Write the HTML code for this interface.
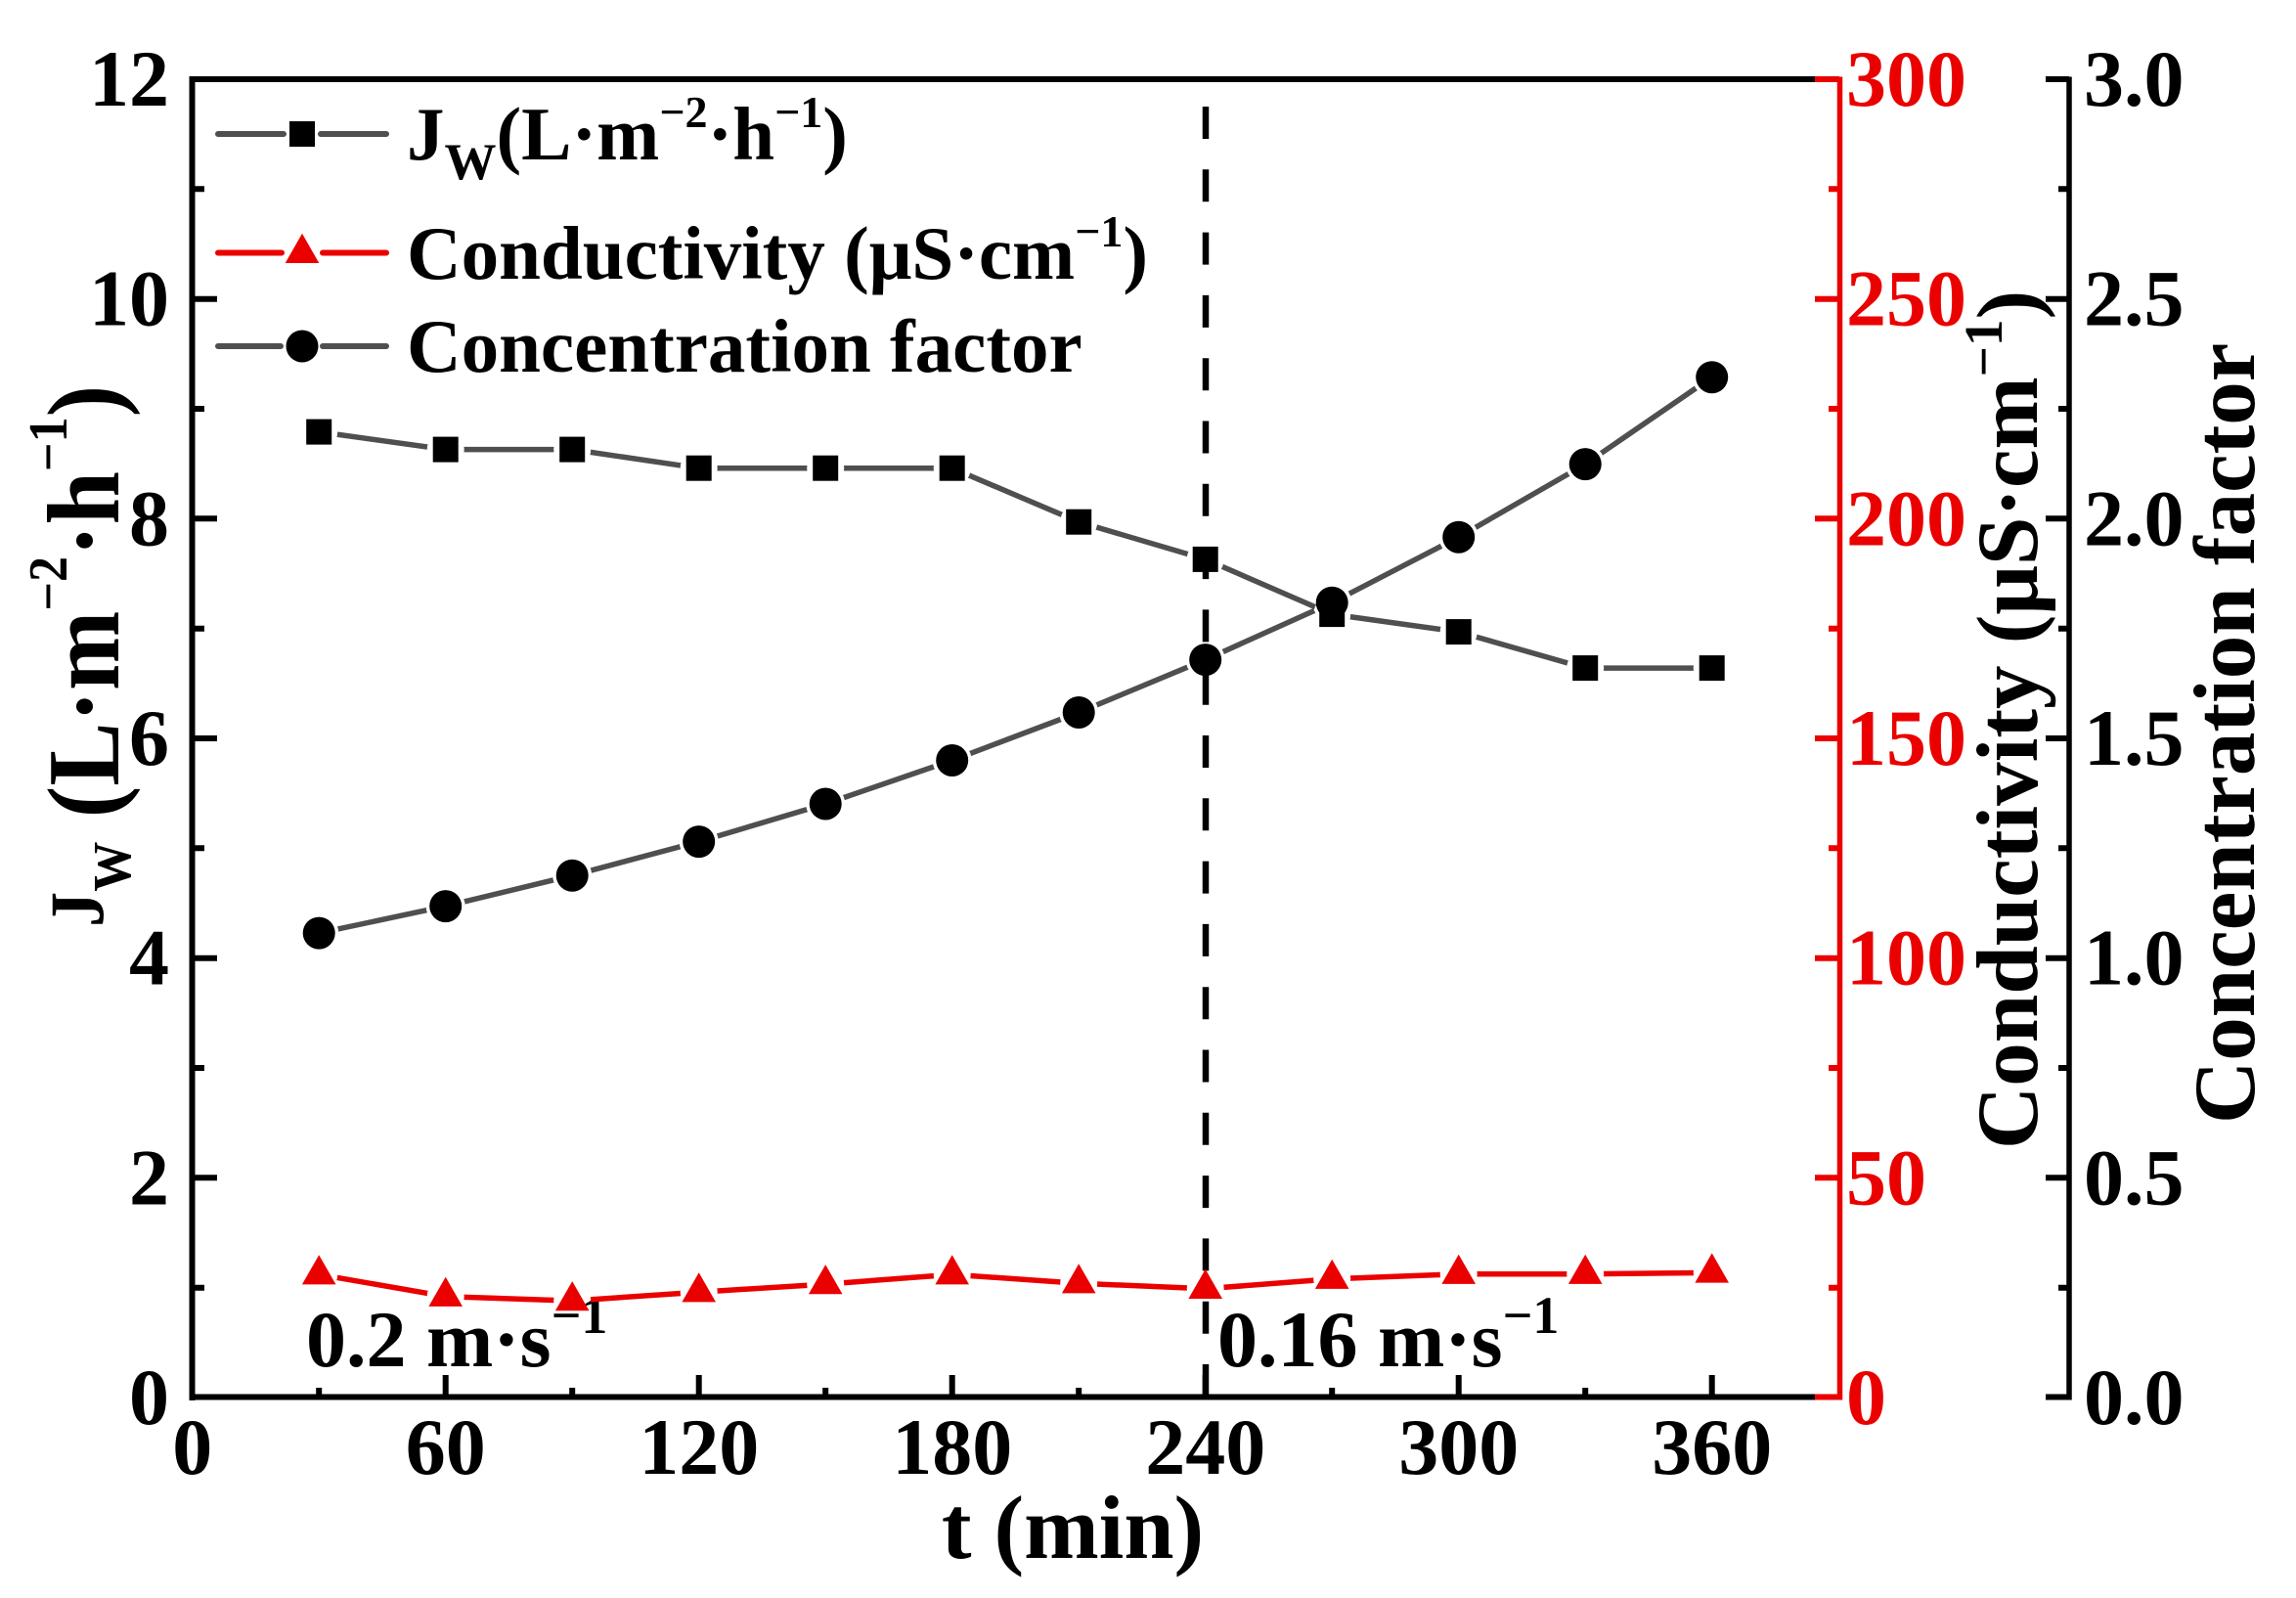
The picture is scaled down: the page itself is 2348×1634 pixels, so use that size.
<!DOCTYPE html>
<html><head><meta charset="utf-8"><style>
html,body{margin:0;padding:0;background:#fff;}
svg{display:block;}
text{font-family:"Liberation Serif","Times New Roman",serif;font-weight:bold;}
</style></head><body>
<svg width="2348" height="1634" viewBox="0 0 2348 1634" xmlns="http://www.w3.org/2000/svg">
<defs>
<rect id="sq" x="-13" y="-13" width="26" height="26" fill="#000"/>
<polygon id="tri" points="0,-20 -17.3,10.2 17.3,10.2" fill="#eb0000"/>
<circle id="cir" cx="0" cy="0" r="16.5" fill="#000"/>
<mask id="mJ" maskUnits="userSpaceOnUse" x="0" y="0" width="2348" height="1634">
<rect width="2348" height="1634" fill="#fff"/>
<g fill="#000">
<circle cx="326.2" cy="441.6" r="19"/><circle cx="455.7" cy="459.6" r="19"/><circle cx="585.2" cy="459.6" r="19"/><circle cx="714.7" cy="478.7" r="19"/><circle cx="844.2" cy="478.7" r="19"/><circle cx="973.7" cy="478.7" r="19"/><circle cx="1103.2" cy="533.7" r="19"/><circle cx="1232.7" cy="571.9" r="19"/><circle cx="1362.2" cy="628.1" r="19"/><circle cx="1491.7" cy="646.1" r="19"/><circle cx="1621.2" cy="683.1" r="19"/><circle cx="1750.7" cy="683.1" r="19"/>
</g></mask>
<mask id="mF" maskUnits="userSpaceOnUse" x="0" y="0" width="2348" height="1634">
<rect width="2348" height="1634" fill="#fff"/>
<g fill="#000">
<circle cx="326.2" cy="954.1" r="20"/><circle cx="455.7" cy="926.6" r="20"/><circle cx="585.2" cy="895.2" r="20"/><circle cx="714.7" cy="860.6" r="20"/><circle cx="844.2" cy="822.0" r="20"/><circle cx="973.7" cy="777.5" r="20"/><circle cx="1103.2" cy="728.5" r="20"/><circle cx="1232.7" cy="674.6" r="20"/><circle cx="1362.2" cy="616.2" r="20"/><circle cx="1491.7" cy="549.2" r="20"/><circle cx="1621.2" cy="474.6" r="20"/><circle cx="1750.7" cy="385.7" r="20"/>
</g></mask>
<mask id="mC" maskUnits="userSpaceOnUse" x="0" y="0" width="2348" height="1634">
<rect width="2348" height="1634" fill="#fff"/>
<g fill="#000">
<circle cx="326.2" cy="1303.2" r="19"/><circle cx="455.7" cy="1325.7" r="19"/><circle cx="585.2" cy="1330.1" r="19"/><circle cx="714.7" cy="1321.2" r="19"/><circle cx="844.2" cy="1313.1" r="19"/><circle cx="973.7" cy="1303.2" r="19"/><circle cx="1103.2" cy="1312.2" r="19"/><circle cx="1232.7" cy="1317.8" r="19"/><circle cx="1362.2" cy="1307.7" r="19"/><circle cx="1491.7" cy="1302.7" r="19"/><circle cx="1621.2" cy="1302.7" r="19"/><circle cx="1750.7" cy="1301.4" r="19"/>
</g></mask>
</defs>
<rect width="2348" height="1634" fill="#fff"/>

<!-- dashed line -->
<line x1="1233" y1="109" x2="1233" y2="1428" stroke="#000" stroke-width="6.5" stroke-dasharray="33 31.3"/>

<!-- axes -->
<g stroke="#000" stroke-width="6" fill="none">
<path d="M196.5 78 V1432"/>
<path d="M193.5 81 H1856"/>
<path d="M193.5 1428.5 H1881"/>
<path d="M196.5 1204.3 H222 M196.5 979.7 H222 M196.5 755 H222 M196.5 530.3 H222 M196.5 305.7 H222"/>
<path d="M196.5 1316.7 H209 M196.5 1092 H209 M196.5 867.3 H209 M196.5 642.7 H209 M196.5 418 H209 M196.5 193.3 H209"/>
<path d="M455.7 1429 V1406 M714.7 1429 V1406 M973.7 1429 V1406 M1232.7 1429 V1406 M1491.7 1429 V1406 M1750.7 1429 V1406"/>
<path d="M326.2 1429 V1419 M585.2 1429 V1419 M844.2 1429 V1419 M1103.2 1429 V1419 M1362.2 1429 V1419 M1621.2 1429 V1419"/>
</g>
<!-- red axis -->
<g stroke="#eb0000" stroke-width="5.5" fill="none">
<path d="M1881.5 78.5 V1431.5"/>
<path d="M1881 81 H1856 M1881 305.7 H1856 M1881 530.3 H1856 M1881 755 H1856 M1881 979.7 H1856 M1881 1204.3 H1856 M1881 1428.5 H1856" stroke-width="6"/>
<path d="M1881 193.3 H1870 M1881 418 H1870 M1881 642.7 H1870 M1881 867.3 H1870 M1881 1092 H1870 M1881 1316.7 H1870" stroke-width="6"/>
</g>
<!-- third axis -->
<g stroke="#000" stroke-width="5.5" fill="none">
<path d="M2116 78.5 V1431.5"/>
<path d="M2116 81 H2092 M2116 305.7 H2092 M2116 530.3 H2092 M2116 755 H2092 M2116 979.7 H2092 M2116 1204.3 H2092 M2116 1428.5 H2092" stroke-width="6"/>
<path d="M2116 193.3 H2105 M2116 418 H2105 M2116 642.7 H2105 M2116 867.3 H2105 M2116 1092 H2105 M2116 1316.7 H2105" stroke-width="6"/>
</g>

<!-- tick labels -->
<g font-size="82" fill="#000" text-anchor="end">
<text x="173" y="1456">0</text>
<text x="173" y="1231.3">2</text>
<text x="173" y="1006.7">4</text>
<text x="173" y="782">6</text>
<text x="173" y="557.3">8</text>
<text x="173" y="332.7">10</text>
<text x="173" y="108">12</text>
</g>
<g font-size="82" fill="#000" text-anchor="middle">
<text x="196.7" y="1507">0</text>
<text x="455.7" y="1507">60</text>
<text x="714.7" y="1507">120</text>
<text x="973.7" y="1507">180</text>
<text x="1232.7" y="1507">240</text>
<text x="1491.7" y="1507">300</text>
<text x="1750.7" y="1507">360</text>
</g>
<g font-size="82" fill="#eb0000">
<text x="1888" y="1456">0</text>
<text x="1888" y="1231.3">50</text>
<text x="1888" y="1006.7">100</text>
<text x="1888" y="782">150</text>
<text x="1888" y="557.3">200</text>
<text x="1888" y="332.7">250</text>
<text x="1888" y="108">300</text>
</g>
<g font-size="82" fill="#000">
<text x="2131" y="1456">0.0</text>
<text x="2131" y="1231.3">0.5</text>
<text x="2131" y="1006.7">1.0</text>
<text x="2131" y="782">1.5</text>
<text x="2131" y="557.3">2.0</text>
<text x="2131" y="332.7">2.5</text>
<text x="2131" y="108">3.0</text>
</g>

<!-- axis titles -->
<text transform="translate(121,948) rotate(-90) scale(0.93,1)" font-size="105" fill="#000"><tspan y="-16" font-size="78">J</tspan><tspan y="12" font-size="55">W</tspan><tspan y="0"> (L·m</tspan><tspan y="-53" font-size="56">−2</tspan><tspan y="0">·h</tspan><tspan y="-53" font-size="56">−1</tspan><tspan y="0">)</tspan></text>
<text transform="translate(2083,1175) rotate(-90)" font-size="89" fill="#000">Conductivity (μS·cm<tspan y="-36" font-size="55">−1</tspan><tspan y="0">)</tspan></text>
<text transform="translate(2305,1149) rotate(-90)" font-size="89" fill="#000">Concentration factor</text>
<text x="1097" y="1593" font-size="92" fill="#000" text-anchor="middle">t (min)</text>

<!-- annotations -->
<text x="313" y="1397" font-size="82" fill="#000">0.2 m·s<tspan y="1363" font-size="54">−1</tspan></text>
<text x="1245" y="1397" font-size="82" fill="#000">0.16 m·s<tspan y="1363" font-size="54">−1</tspan></text>

<!-- J series -->
<polyline mask="url(#mJ)" fill="none" stroke="#4f4f4f" stroke-width="5.5" stroke-linejoin="round" points="326.2,441.6 455.7,459.6 585.2,459.6 714.7,478.7 844.2,478.7 973.7,478.7 1103.2,533.7 1232.7,571.9 1362.2,628.1 1491.7,646.1 1621.2,683.1 1750.7,683.1"/>
<use href="#sq" x="326.2" y="441.6"/><use href="#sq" x="455.7" y="459.6"/><use href="#sq" x="585.2" y="459.6"/><use href="#sq" x="714.7" y="478.7"/><use href="#sq" x="844.2" y="478.7"/><use href="#sq" x="973.7" y="478.7"/><use href="#sq" x="1103.2" y="533.7"/><use href="#sq" x="1232.7" y="571.9"/><use href="#sq" x="1362.2" y="628.1"/><use href="#sq" x="1491.7" y="646.1"/><use href="#sq" x="1621.2" y="683.1"/><use href="#sq" x="1750.7" y="683.1"/>

<!-- Conductivity series -->
<polyline mask="url(#mC)" fill="none" stroke="#eb0000" stroke-width="5.5" stroke-linejoin="round" points="326.2,1303.2 455.7,1325.7 585.2,1330.1 714.7,1321.2 844.2,1313.1 973.7,1303.2 1103.2,1312.2 1232.7,1317.8 1362.2,1307.7 1491.7,1302.7 1621.2,1302.7 1750.7,1301.4"/>
<use href="#tri" x="326.2" y="1303.2"/><use href="#tri" x="455.7" y="1325.7"/><use href="#tri" x="585.2" y="1330.1"/><use href="#tri" x="714.7" y="1321.2"/><use href="#tri" x="844.2" y="1313.1"/><use href="#tri" x="973.7" y="1303.2"/><use href="#tri" x="1103.2" y="1312.2"/><use href="#tri" x="1232.7" y="1317.8"/><use href="#tri" x="1362.2" y="1307.7"/><use href="#tri" x="1491.7" y="1302.7"/><use href="#tri" x="1621.2" y="1302.7"/><use href="#tri" x="1750.7" y="1301.4"/>

<!-- Concentration factor series -->
<polyline mask="url(#mF)" fill="none" stroke="#4f4f4f" stroke-width="5.5" stroke-linejoin="round" points="326.2,954.1 455.7,926.6 585.2,895.2 714.7,860.6 844.2,822.0 973.7,777.5 1103.2,728.5 1232.7,674.6 1362.2,616.2 1491.7,549.2 1621.2,474.6 1750.7,385.7"/>
<use href="#cir" x="326.2" y="954.1"/><use href="#cir" x="455.7" y="926.6"/><use href="#cir" x="585.2" y="895.2"/><use href="#cir" x="714.7" y="860.6"/><use href="#cir" x="844.2" y="822.0"/><use href="#cir" x="973.7" y="777.5"/><use href="#cir" x="1103.2" y="728.5"/><use href="#cir" x="1232.7" y="674.6"/><use href="#cir" x="1362.2" y="616.2"/><use href="#cir" x="1491.7" y="549.2"/><use href="#cir" x="1621.2" y="474.6"/><use href="#cir" x="1750.7" y="385.7"/>

<!-- legend -->
<g stroke-width="6" stroke-linecap="round" fill="none">
<path d="M223 137 H290 M328 137 H395" stroke="#4f4f4f"/>
<path d="M223 258.5 H288 M330 258.5 H395" stroke="#eb0000"/>
<path d="M223 354 H287 M330 354 H395" stroke="#4f4f4f"/>
</g>
<use href="#sq" x="309" y="137"/>
<use href="#tri" x="309" y="258.8"/>
<use href="#cir" x="309" y="354"/>
<text x="416" y="163" font-size="77" fill="#000">J<tspan y="183" font-size="53">W</tspan><tspan y="163">(L·m</tspan><tspan y="130" font-size="46">−2</tspan><tspan y="163">·h</tspan><tspan y="130" font-size="46">−1</tspan><tspan y="163">)</tspan></text>
<text x="416" y="285" font-size="77" fill="#000">Conductivity (μS·cm<tspan y="252" font-size="46">−1</tspan><tspan y="285">)</tspan></text>
<text x="416" y="380" font-size="77" fill="#000">Concentration factor</text>
</svg>
</body></html>
